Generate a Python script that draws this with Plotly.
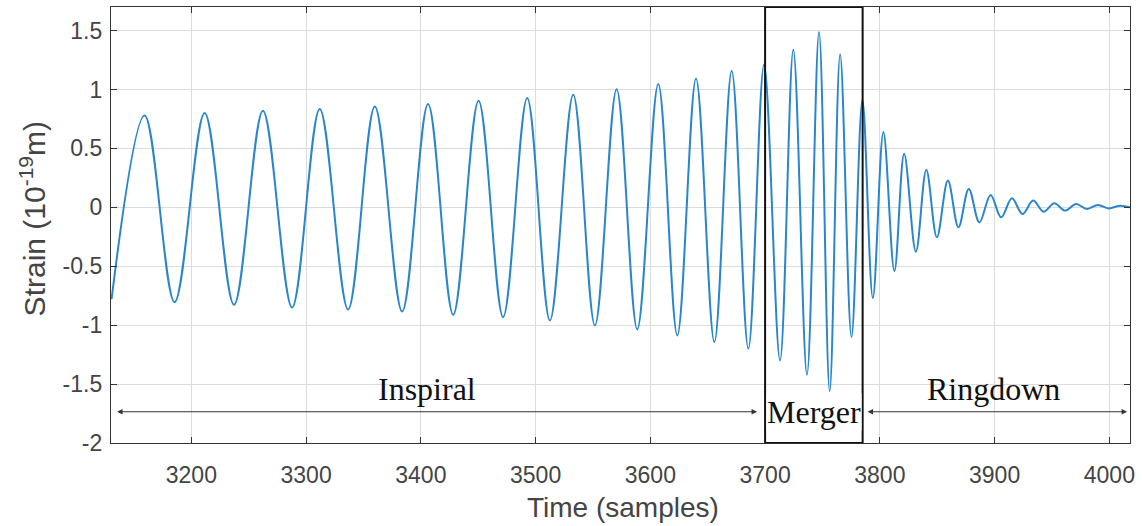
import plotly.graph_objects as go

# ---- data: successive extrema of the waveform ----
time_samples = [
    3130.5, 3159.3, 3185.4, 3211.6, 3237.2, 3262.4, 3287.8, 3311.9, 3336.6, 3359.9,
    3383.7, 3406.3, 3428.2, 3450.3, 3471.7, 3492.7, 3512.5, 3532.8, 3551.7, 3570.6,
    3588.6, 3606.9, 3623.5, 3639.8, 3655.8, 3670.9, 3685.4, 3699.1, 3713.0, 3724.6,
    3736.5, 3747.0, 3756.3, 3765.4, 3775.3, 3784.8, 3793.9, 3803.1, 3812.7, 3821.2,
    3831.4, 3840.5, 3849.7, 3859.3, 3868.5, 3877.5, 3886.8, 3896.5, 3905.7, 3915.1,
    3924.3, 3933.6, 3942.7, 3952.0, 3961.6, 3971.0, 3980.5, 3990.0, 3999.3, 4009.6,
    4018.0,
]
strain = [
    -0.78, 0.78, -0.805, 0.80, -0.827, 0.82, -0.85, 0.835, -0.867, 0.855,
    -0.884, 0.876, -0.912, 0.904, -0.932, 0.927, -0.96, 0.955, -1.003, 1.003,
    -1.036, 1.046, -1.087, 1.093, -1.144, 1.158, -1.20, 1.212, -1.299, 1.338,
    -1.42, 1.487, -1.56, 1.30, -1.10, 0.91, -0.77, 0.64, -0.54, 0.454,
    -0.377, 0.318, -0.255, 0.227, -0.17, 0.156, -0.128, 0.105, -0.085, 0.077,
    -0.057, 0.057, -0.037, 0.034, -0.028, 0.028, -0.014, 0.020, -0.009, 0.014,
    0.0,
]

x_tick_vals = [3200, 3300, 3400, 3500, 3600, 3700, 3800, 3900, 4000]
x_tick_labels = ["3200", "3300", "3400", "3500", "3600", "3700", "3800", "3900", "4000"]
y_tick_vals = [-2, -1.5, -1, -0.5, 0, 0.5, 1, 1.5]
y_tick_labels = ["-2", "-1.5", "-1", "-0.5", "0", "0.5", "1", "1.5"]

x_range = [3130, 4018]
y_range = [-2, 1.7]

phase_names = ["Inspiral", "Merger", "Ringdown"]
inspiral_span = [3134, 3693]
merger_span = [3700, 3785]
ringdown_span = [3788, 4015.5]
arrow_level = -1.735
label_level = -1.54

x_title = "Time (samples)"
y_title = "Strain (10<sup>-19</sup>m)"

fig = go.Figure()
fig.add_trace(go.Scatter(
    x=time_samples, y=strain, mode="lines",
    line=dict(color="#2a86cb", width=2.0, shape="spline", smoothing=1.0),
    showlegend=False, hoverinfo="skip",
))

# merger box
fig.add_shape(type="rect", xref="x", yref="y",
              x0=merger_span[0], x1=merger_span[1], y0=y_range[0], y1=y_range[1],
              line=dict(color="#111111", width=2), layer="above")

serif = "Liberation Serif, Times New Roman, serif"
ann = []
# double-headed arrows
for span in (inspiral_span, ringdown_span):
    ann.append(dict(x=span[1], y=arrow_level, ax=span[0], ay=arrow_level,
                    xref="x", yref="y", axref="x", ayref="y", text="",
                    showarrow=True, arrowside="end+start", arrowhead=2,
                    arrowsize=1, arrowwidth=1.1, arrowcolor="#333333",
                    standoff=0, startstandoff=0))
ann.append(dict(x=(inspiral_span[0] + inspiral_span[1]) / 2 - 8, y=label_level,
                xref="x", yref="y", text=phase_names[0], showarrow=False,
                font=dict(family=serif, size=32, color="#111111")))
ann.append(dict(x=(merger_span[0] + merger_span[1]) / 2, y=arrow_level,
                xref="x", yref="y", text=phase_names[1], showarrow=False,
                font=dict(family=serif, size=32, color="#111111"),
                bgcolor="white", borderpad=0))
ann.append(dict(x=(ringdown_span[0] + ringdown_span[1]) / 2 - 3, y=label_level,
                xref="x", yref="y", text=phase_names[2], showarrow=False,
                font=dict(family=serif, size=32, color="#111111")))
# axis titles
sans = "Liberation Sans, Arial, sans-serif"
ann.append(dict(x=0.5023, y=-0.148, xref="paper", yref="paper", text=x_title,
                showarrow=False, xanchor="center", yanchor="middle",
                font=dict(family=sans, size=28, color="#444444")))
ann.append(dict(x=-0.0765, y=0.513, xref="paper", yref="paper", text=y_title,
                showarrow=False, xanchor="center", yanchor="middle", textangle=-90,
                font=dict(family=sans, size=30, color="#444444")))

axis_common = dict(
    showgrid=True, gridcolor="#dcdcdc", gridwidth=1, zeroline=False,
    showline=True, linecolor="#333333", linewidth=1.3, mirror="ticks",
    ticks="inside", ticklen=6, tickwidth=1.2, tickcolor="#333333",
    tickfont=dict(family=sans, size=23, color="#444444"), automargin=False,
)

fig.update_layout(
    width=1142, height=526,
    margin=dict(l=111, r=12, t=7, b=83),
    paper_bgcolor="white", plot_bgcolor="white",
    xaxis=dict(range=x_range, tickmode="array", tickvals=x_tick_vals,
               ticktext=x_tick_labels, ticklabelstandoff=11, **axis_common),
    yaxis=dict(range=y_range, tickmode="array", tickvals=y_tick_vals,
               ticktext=y_tick_labels, ticklabelstandoff=3, **axis_common),
    annotations=ann,
)

fig.write_html("out.html")
